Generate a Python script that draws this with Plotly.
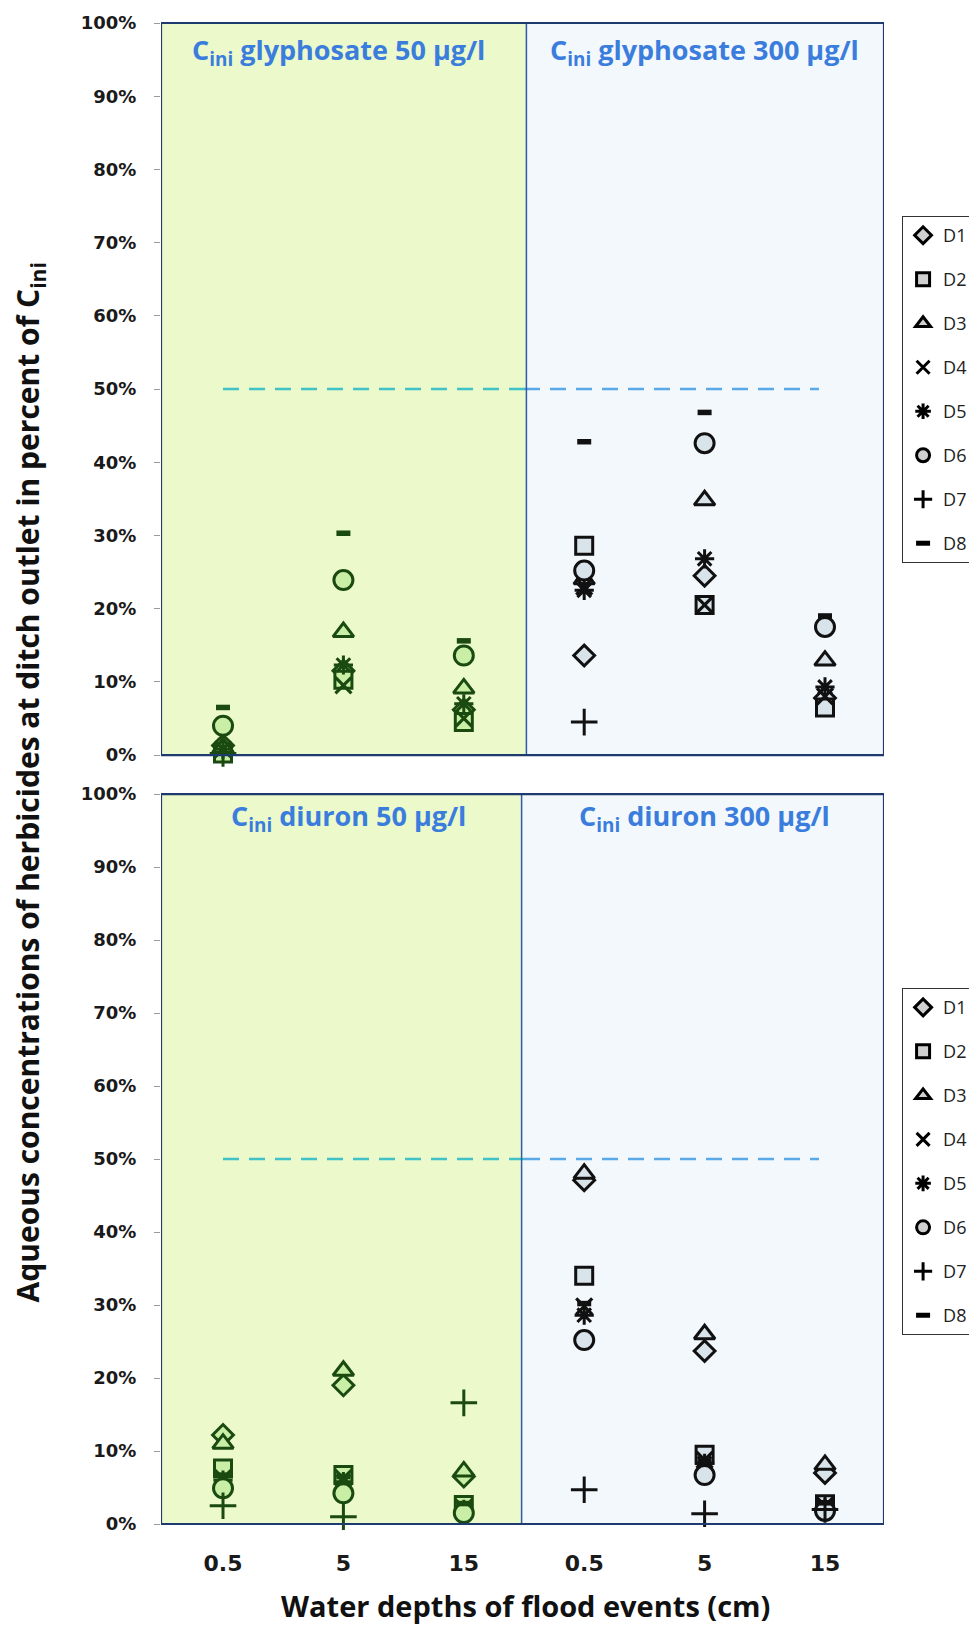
import plotly.graph_objects as go

# ---------------- data ----------------
depth_labels = ["0.5", "5", "15", "0.5", "5", "15"]
series_names = ["D1", "D2", "D3", "D4", "D5", "D6", "D7", "D8"]

# glyphosate (left 3 = Cini 50 µg/l, right 3 = Cini 300 µg/l), % of Cini
gly_D1 = [1.3, 11.5, 6.2, 13.6, 24.5, 7.8]
gly_D2 = [0.2, 10.3, 4.5, 28.6, 20.5, 6.5]
gly_D3 = [1.0, 16.8, 9.1, 24.0, 34.8, 12.9]
gly_D4 = [0.8, 9.5, 5.0, 23.0, 20.5, 8.0]
gly_D5 = [0.8, 12.3, 7.0, 22.5, 26.8, 9.3]
gly_D6 = [4.0, 23.9, 13.6, 25.2, 42.6, 17.5]
gly_D7 = [0.2, None, None, 4.5, None, None]
gly_D8 = [6.5, 30.3, 15.6, 42.8, 46.8, 19.0]

# diuron
diu_D1 = [12.2, 19.0, 6.5, 47.1, 23.7, 7.0]
diu_D2 = [7.6, 6.7, 2.6, 34.0, 9.5, 2.7]
diu_D3 = [11.0, 21.0, 7.2, 48.0, 26.0, 8.1]
diu_D4 = [6.3, 6.3, 2.2, 29.8, 8.8, 2.5]
diu_D5 = [6.0, 5.8, 2.0, 28.6, 8.3, 2.2]
diu_D6 = [4.9, 4.2, 1.5, 25.2, 6.7, 1.8]
diu_D7 = [2.5, 1.0, 16.6, 4.7, 1.4, 2.0]
diu_D8 = [6.7, 6.5, 2.8, 30.2, 8.5, 2.9]

gly = [gly_D1, gly_D2, gly_D3, gly_D4, gly_D5, gly_D6, gly_D7, gly_D8]
diu = [diu_D1, diu_D2, diu_D3, diu_D4, diu_D5, diu_D6, diu_D7, diu_D8]

threshold = 50
y_ticks = [0, 10, 20, 30, 40, 50, 60, 70, 80, 90, 100]

# ---------------- styles ----------------
symbols = ["diamond", "square", "triangle-up", "x-thin", "asterisk",
           "circle", "cross-thin", "line-ew"]
sizes = [16, 17, 18, 16, 16, 19, 19, 10]
lwidths = [3, 3, 3, 3.2, 3, 3, 3, 5.5]

green_line = "#1B4A10"
green_fill = "#C9EFA6"
black_line = "#111111"
grey_fill = "#D9E3EA"
line_cols = [green_line] * 3 + [black_line] * 3
fill_cols = [green_fill] * 3 + [grey_fill] * 3

xs = list(range(len(depth_labels)))

fig = go.Figure()

for panel, (data, yax, leg) in enumerate([(gly, "y", "legend"), (diu, "y2", "legend2")]):
    xa = "x" if panel == 0 else "x2"
    for i, name in enumerate(series_names):
        fig.add_trace(go.Scatter(
            x=xs, y=data[i], mode="markers", name=name, xaxis=xa, yaxis=yax,
            showlegend=False,
            marker=dict(symbol=symbols[i], size=sizes[i], color=fill_cols,
                        line=dict(color=line_cols, width=lwidths[i])),
            cliponaxis=False,
        ))
    # legend-only traces
    for i, name in enumerate(series_names):
        fig.add_trace(go.Scatter(
            x=[None], y=[None], mode="markers", name=name, xaxis=xa, yaxis=yax,
            legend=leg, legendgroup=f"{leg}{name}",
            marker=dict(symbol=symbols[i], size=min(sizes[i], 13), color="#D0D0D0",
                        line=dict(color="#000000", width=3 if i != 7 else 5)),
        ))

# 50 % dashed reference lines
for xa, ya in [("x", "y"), ("x2", "y2")]:
    fig.add_trace(go.Scatter(x=[0, 2.5], y=[threshold, threshold], mode="lines",
                             xaxis=xa, yaxis=ya, showlegend=False, hoverinfo="skip",
                             line=dict(color="#3FC3C6", width=2.5, dash="16px,10px")))
    fig.add_trace(go.Scatter(x=[2.5, 4.95], y=[threshold, threshold], mode="lines",
                             xaxis=xa, yaxis=ya, showlegend=False, hoverinfo="skip",
                             line=dict(color="#5AA9E6", width=2.5, dash="16px,10px")))

# background halves & borders
shapes = []
for xref, yref, div in [("x", "y domain", 2.52), ("x2", "y2 domain", 2.48)]:
    shapes.append(dict(type="rect", xref=xref, yref=yref, x0=-0.515, x1=div, y0=0, y1=1,
                       fillcolor="#EBF9CB", line=dict(width=0), layer="below"))
    shapes.append(dict(type="rect", xref=xref, yref=yref, x0=div, x1=5.49, y0=0, y1=1,
                       fillcolor="#F3F8FC", line=dict(width=0), layer="below"))
    shapes.append(dict(type="line", xref=xref, yref=yref, x0=div, x1=div, y0=0, y1=1,
                       line=dict(color="#2E5AA8", width=1.5)))
    shapes.append(dict(type="rect", xref=xref, yref=yref, x0=-0.515, x1=5.49, y0=0, y1=1,
                       line=dict(color="#1F3A6E", width=2.2)))

title_font = dict(family="Open Sans", size=27, color="#3B7DDD", weight="bold")
annotations = [
    dict(text="C<sub>ini</sub> glyphosate 50 µg/l", x=0.96, y=0.9807, xref="x", yref="paper",
         xanchor="center", yanchor="middle", showarrow=False, font=title_font),
    dict(text="C<sub>ini</sub> glyphosate 300 µg/l", x=4.0, y=0.9807, xref="x", yref="paper",
         xanchor="center", yanchor="middle", showarrow=False, font=title_font),
    dict(text="C<sub>ini</sub> diuron 50 µg/l", x=1.04, y=0.4704, xref="x2", yref="paper",
         xanchor="center", yanchor="middle", showarrow=False, font=title_font),
    dict(text="C<sub>ini</sub> diuron 300 µg/l", x=4.0, y=0.4704, xref="x2", yref="paper",
         xanchor="center", yanchor="middle", showarrow=False, font=title_font),
    dict(text="Aqueous concentrations of herbicides at ditch outlet in percent of C<sub>ini</sub>",
         x=-0.1826, y=0.494, xref="paper", yref="paper", textangle=-90, showarrow=False,
         xanchor="center", yanchor="middle",
         font=dict(family="Open Sans", size=30, color="#111111", weight="bold")),
    dict(text="Water depths of flood events (cm)", x=0.504, y=-0.0546, xref="paper", yref="paper",
         xanchor="center", yanchor="middle", showarrow=False,
         font=dict(family="Open Sans", size=29, color="#111111", weight="bold")),
]

tick_font = dict(family="DejaVu Sans", size=18, color="#1a1a1a", weight="bold")
yaxis_common = dict(range=[0, 100], tickvals=y_ticks, ticktext=[f"{v}%" for v in y_ticks],
                    showgrid=False, zeroline=False, ticks="outside", ticklen=6,
                    tickcolor="#9a9a9a", tickfont=tick_font, ticklabelstandoff=14,
                    showline=False, fixedrange=True)
xaxis_common = dict(range=[-0.515, 5.49], showgrid=False, zeroline=False, showline=False,
                    tickvals=xs, ticktext=depth_labels)

legend_common = dict(xref="paper", yref="paper", x=1.025, xanchor="left", yanchor="top",
                     bgcolor="white", bordercolor="#333333", borderwidth=1,
                     font=dict(family="Open Sans", size=18, color="#222222"),
                     tracegroupgap=17.6, itemwidth=30)

# figure is 8px smaller than the window to compensate for the default page margin
fig.update_layout(
    width=969, height=1621,
    margin=dict(l=153, r=93, t=15, b=105, autoexpand=False),
    paper_bgcolor="white", plot_bgcolor="rgba(0,0,0,0)",
    xaxis=dict(**xaxis_common, domain=[0, 1], anchor="y", showticklabels=False, ticks=""),
    xaxis2=dict(**xaxis_common, domain=[0, 1], anchor="y2", ticks="outside", ticklen=0,
                ticklabelstandoff=20,
                tickfont=dict(family="DejaVu Sans", size=22, color="#1a1a1a", weight="bold")),
    yaxis=dict(**yaxis_common, domain=[0.5123, 1], anchor="x"),
    yaxis2=dict(**yaxis_common, domain=[0, 0.4863], anchor="x2"),
    legend=dict(**legend_common, y=0.8714),
    legend2=dict(**legend_common, y=0.357),
    shapes=shapes, annotations=annotations,
)

fig.write_html("out.html")
